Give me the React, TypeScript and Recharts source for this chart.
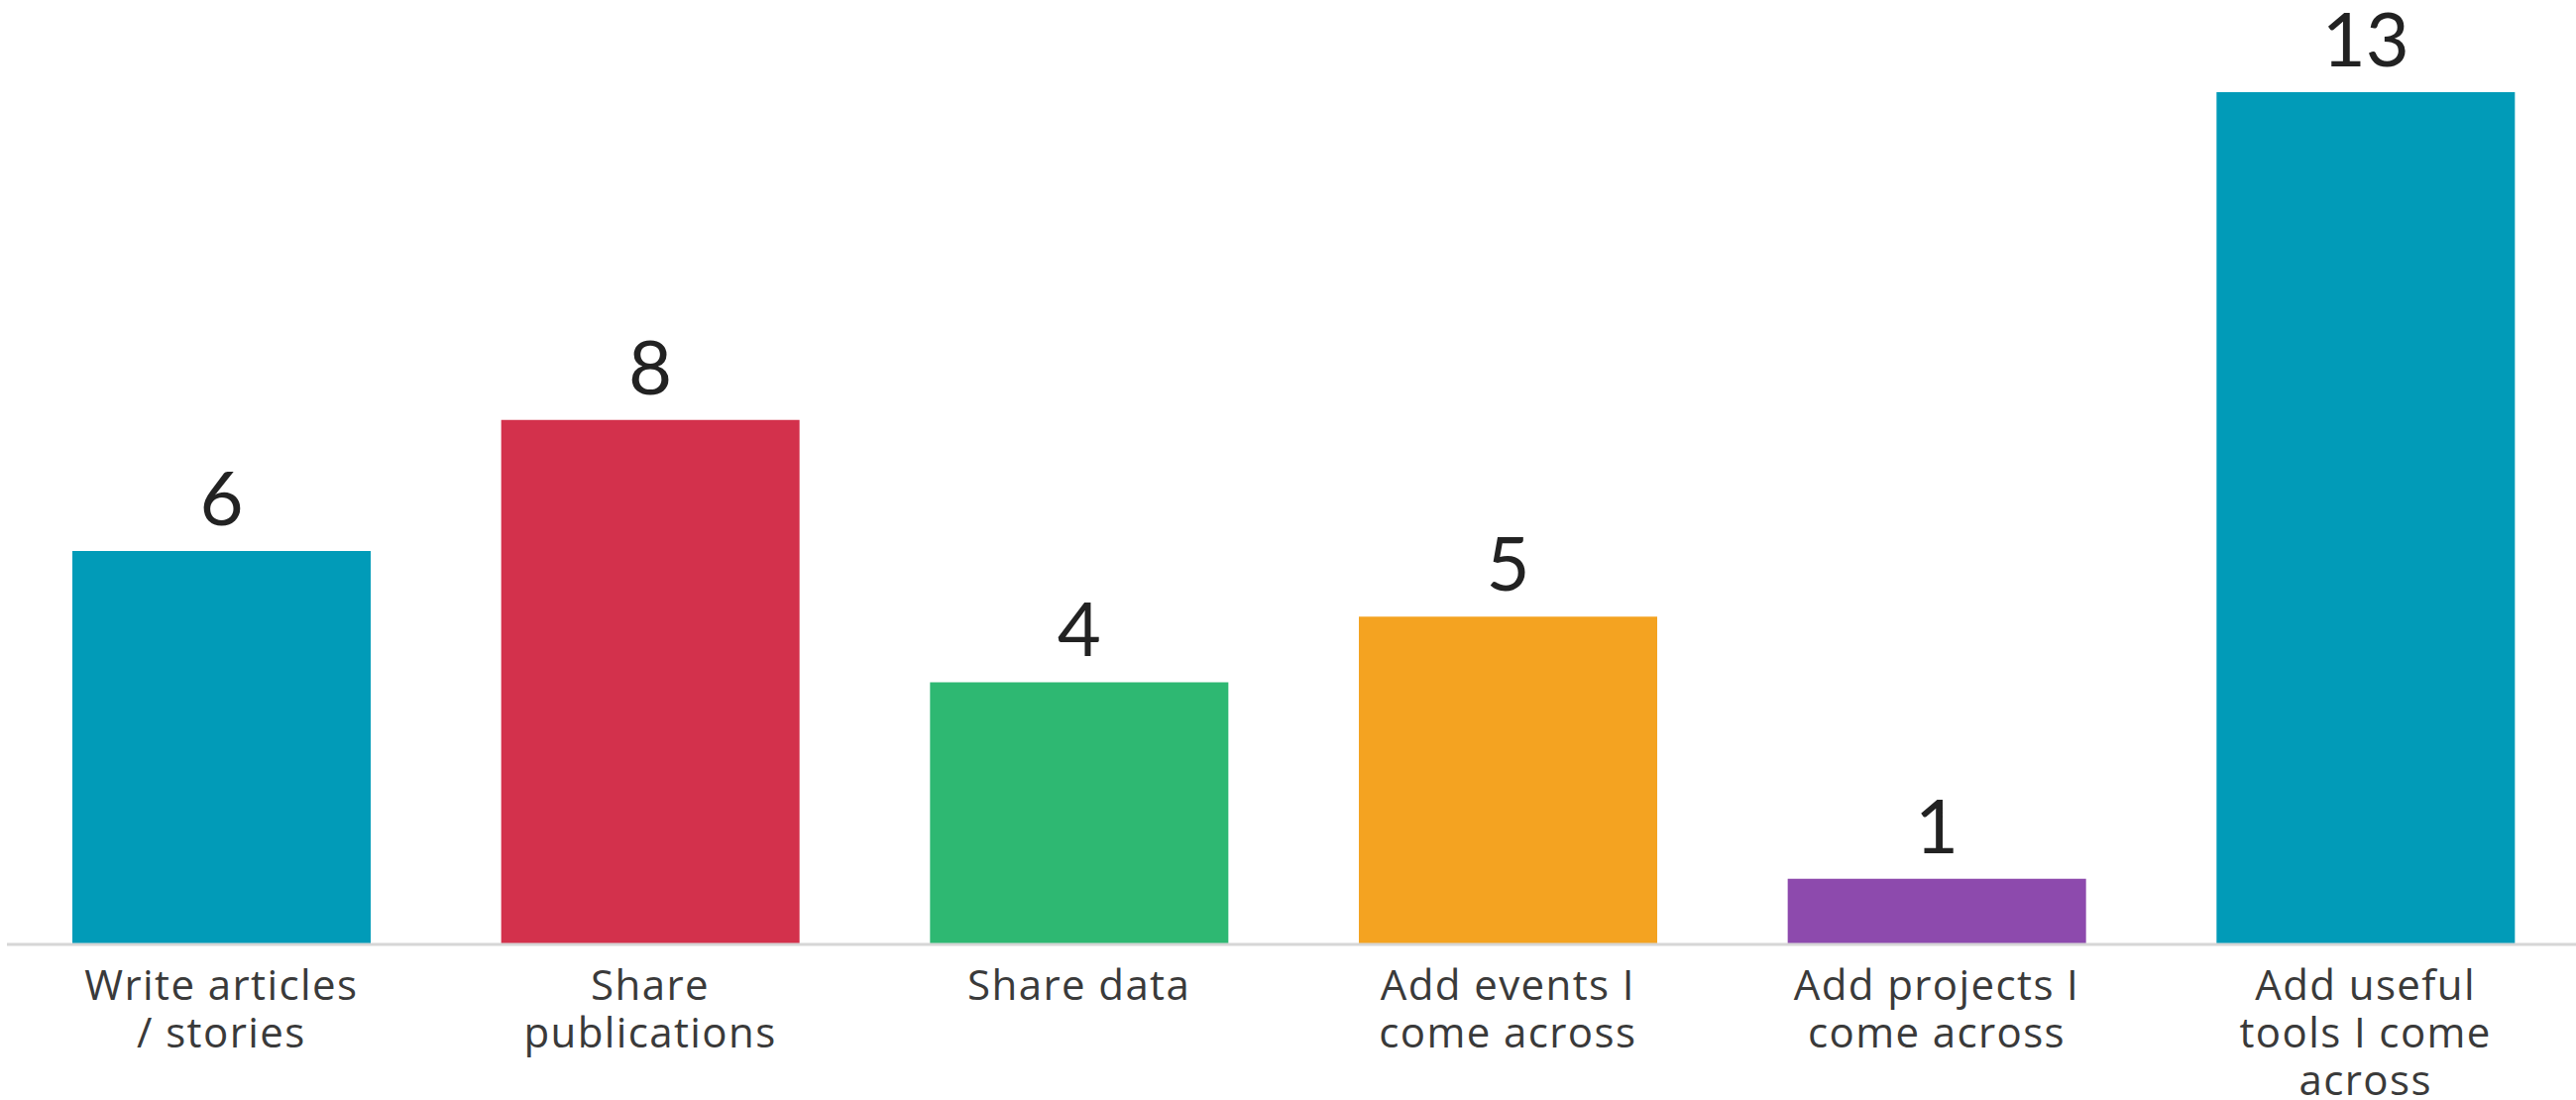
import React from 'react';
import { BarChart, Bar, XAxis, YAxis, Cell, LabelList } from 'recharts';

const categories = [
  'Write articles / stories',
  'Share publications',
  'Share data',
  'Add events I come across',
  'Add projects I come across',
  'Add useful tools I come across',
];
const tickLines = [
  ['Write articles', '/ stories'],
  ['Share', 'publications'],
  ['Share data'],
  ['Add events I', 'come across'],
  ['Add projects I', 'come across'],
  ['Add useful', 'tools I come', 'across'],
];
const values = [6, 8, 4, 5, 1, 13];
const colors = ['#019bb8', '#d3314c', '#2eb872', '#f4a321', '#8d4aad', '#019bb8'];

const data = categories.map((c, i) => ({ name: c, value: values[i] }));

const TICK_FONT = '"Open Sans", Lato, sans-serif';
const VALUE_FONT = 'Lato, "Open Sans", sans-serif';

const Tick = (props: any) => {
  const { x, y, payload } = props;
  const idx = categories.indexOf(payload.value);
  const lines = idx >= 0 ? tickLines[idx] : [payload.value];
  return (
    <text x={x} y={y} textAnchor="middle" fill="#3a3a3a" fontSize={42} fontFamily={TICK_FONT} letterSpacing={1.4}>
      {lines.map((l: string, i: number) => (
        <tspan key={i} x={x} dy={48}>{l}</tspan>
      ))}
    </text>
  );
};

export default function App() {
  return (
    <div style={{ position: 'absolute', left: 0, top: 0, width: 2599, height: 1110, overflow: 'hidden', background: '#fff' }}>
      <BarChart width={2603} height={1110} data={data} margin={{ top: 93, right: 0, bottom: 0, left: 7 }}>
        <XAxis
          dataKey="name"
          height={157}
          interval={0}
          tickLine={false}
          axisLine={{ stroke: '#d6d6d6', strokeWidth: 3 }}
          tick={<Tick />}
        />
        <YAxis hide domain={[0, 13]} />
        <Bar dataKey="value" barSize={301} isAnimationActive={false}>
          {data.map((d, i) => (
            <Cell key={i} fill={colors[i]} />
          ))}
          <LabelList dataKey="value" position="top" offset={26} fill="#222" fontSize={76} fontFamily={VALUE_FONT} />
        </Bar>
      </BarChart>
    </div>
  );
}
